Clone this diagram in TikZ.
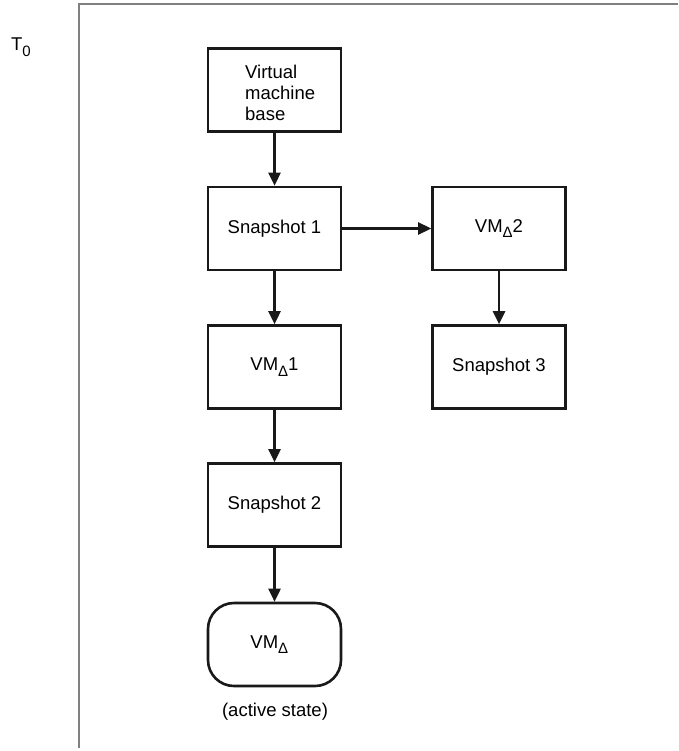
\documentclass[tikz,border=0pt]{standalone}
\usepackage{fontspec}
\setmainfont{Liberation Sans}
\usetikzlibrary{arrows.meta}
\newcommand{\mysub}[1]{\raisebox{-5.5pt}{\fontsize{15}{15}\selectfont #1}}
\begin{document}
\begin{tikzpicture}[x=1pt,y=-1pt,
  box/.style={draw=black!90, line width=2.6pt, minimum width=133pt, minimum height=83pt, inner sep=0pt, font=\fontsize{18.5}{21}\selectfont},
  lbl/.style={font=\fontsize{18.5}{21}\selectfont, inner sep=0pt},
  conn/.style={line width=2.6pt, draw=black!90, -{Triangle[length=13pt,width=12pt]}}]
\useasboundingbox (0,0) rectangle (678,751);
\coordinate (ftop) at (79,4);
\coordinate (fright) at (678,4);
\coordinate (fbot) at (79,748);
\draw[gray, line width=1.3pt] (fright) -- (ftop) -- (fbot);
\node[lbl] (t0) at (21,47) {T\mysub{0}};
\node[box] (base) at (274.5,90) {};
\node[lbl, anchor=west, align=left] (basetxt) at (245,93) {Virtual\\machine\\base};
\node[box] (s1) at (274.5,228.5) {Snapshot 1};
\node[box] (vm2) at (499,228.5) {VM\mysub{Δ}2};
\node[box] (vm1) at (274.5,367) {VM\mysub{Δ}1};
\node[box] (s3) at (499,367) {Snapshot 3};
\node[box] (s2) at (274.5,505) {Snapshot 2};
\node[box, rounded corners=26pt] (vm) at (274.5,644.5) {VM\mysub{Δ}\phantom{1}};
\node[lbl] (act) at (275,712) {(active state)};
\draw[conn] (base) -- (s1);
\draw[conn] (s1) -- (vm2);
\draw[conn] (s1) -- (vm1);
\draw[conn] (vm2) -- (s3);
\draw[conn] (vm1) -- (s2);
\draw[conn] (s2) -- (vm);
\end{tikzpicture}
\end{document}
